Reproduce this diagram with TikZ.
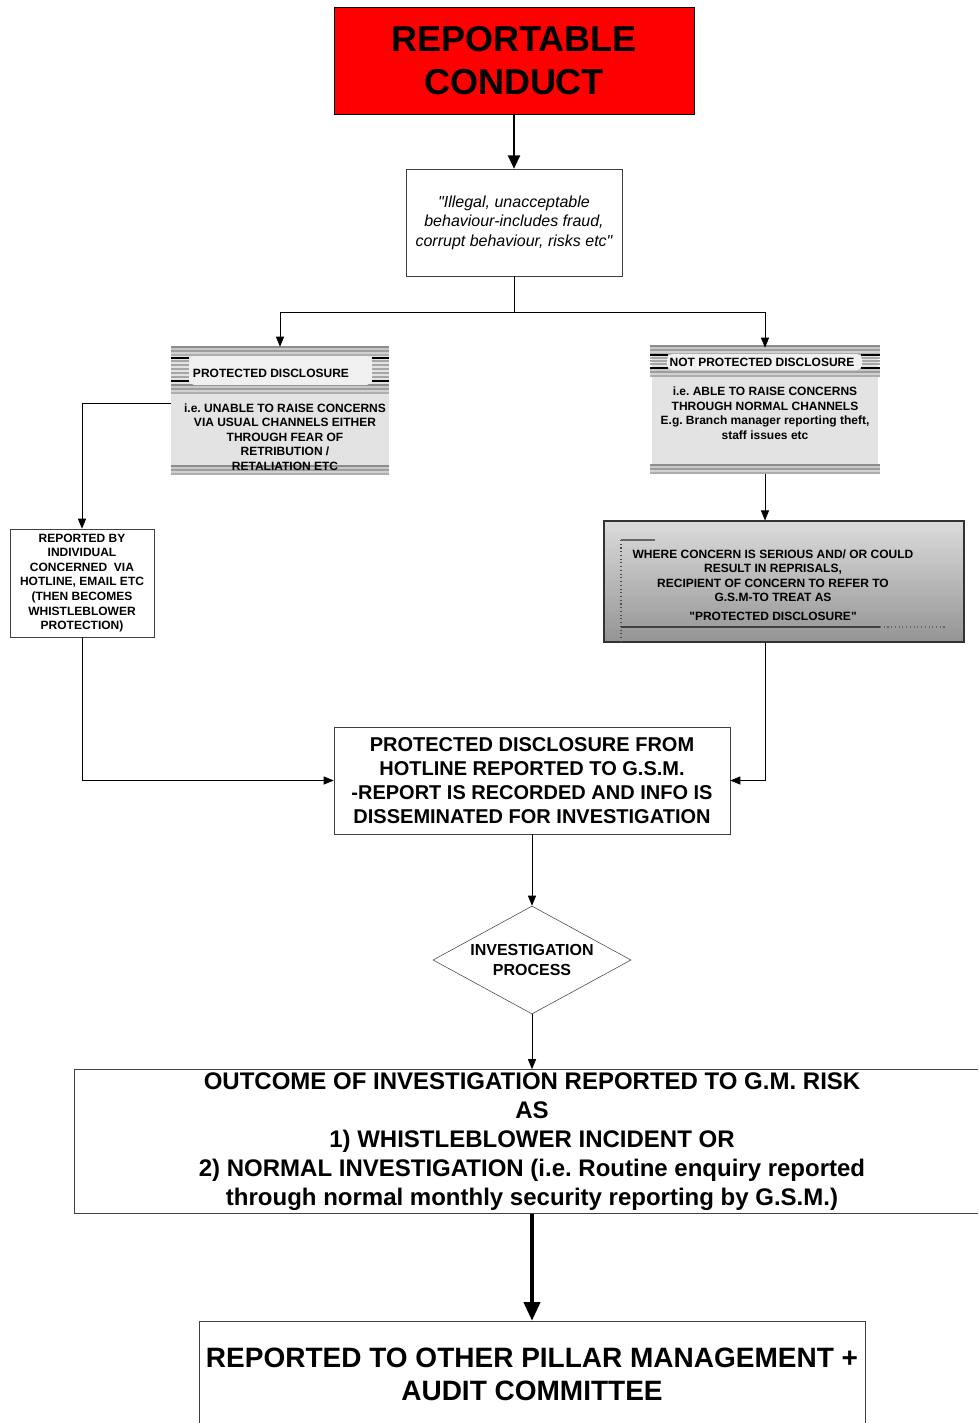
\documentclass[tikz,border=0pt]{standalone}
\usepackage{fontspec}
\setmainfont{Liberation Sans}[Ligatures=TeXOff]
\usepackage{tikz}
\usetikzlibrary{arrows.meta,shapes.geometric,positioning}

\newcommand\fs[2]{\fontsize{#1}{#2}\selectfont}
\newcommand\stripeband[3]{%
  \foreach \d/\c in {0/black!45,2/black!22,4/black!38,6/black!18,8/black!32}
    {\draw[\c, line width=1.1pt] (#1,#3+\d) -- (#2,#3+\d);}}

\tikzset{
  box/.style={draw=black!75, fill=white, inner sep=0pt, align=center},
  panel/.style={fill=black!11, inner sep=0pt},
  small/.style={font=\fs{9}{10.9}\bfseries, align=center, inner sep=0pt},
  link/.style={-{Triangle[length=7.5pt,width=6pt]}, line width=0.6pt},
  toplink/.style={-{Triangle[length=10pt,width=9pt]}, line width=1.5pt},
  biglink/.style={-{Triangle[length=14pt,width=12pt]}, line width=3pt}
}

\begin{document}
\frenchspacing
\begin{tikzpicture}[x=0.75pt,y=-0.75pt]
  \useasboundingbox (0,0) rectangle (978,1423);
  \clip (0,0) rectangle (978,1423);

  \node[box, draw=black, fill=red, minimum width=270pt, minimum height=80.25pt,
        font=\fs{27}{32}\bfseries] (conduct) at (514,60.5) {REPORTABLE\\CONDUCT};
  \node[box, minimum width=162pt, minimum height=80.25pt,
        font=\fs{12}{14.6}\itshape] (illegal) at (514,222.5)
        {"Illegal, unacceptable\\behaviour-includes fraud,\\corrupt behaviour, risks etc"};

  % protected disclosure panel
  \node[panel, minimum width=163.5pt, minimum height=96pt] (prot) at (280,411) {};
  \foreach \y in {347,385,466} {\stripeband{171}{389}{\y}}
  \foreach \y in {361,365,369,373,377} {\draw[black!35, line width=1pt] (171,\y) -- (389,\y);}
  \fill[black!6, rounded corners=4pt] (189,356) rectangle (372,385);
  \foreach \x/\xx in {171/189,372/389} {
    \draw[black, line width=0.8pt] (\x,358) -- (\xx,358);
    \draw[black, line width=0.8pt] (\x,381) -- (\xx,381);}
  \node[small] (protHead) at (271,373) {PROTECTED DISCLOSURE};
  \node[small] (protBody) at (285,437)
        {i.e. UNABLE TO RAISE CONCERNS\\VIA USUAL CHANNELS EITHER\\THROUGH FEAR OF\\RETRIBUTION /\\RETALIATION ETC};

  % not protected disclosure panel
  \node[panel, minimum width=169.5pt, minimum height=94.5pt] (notprot) at (765,411) {};
  \foreach \y in {346,368,465} {\stripeband{650}{880}{\y}}
  \foreach \y in {358,361,364} {\draw[black!35, line width=1pt] (650,\y) -- (880,\y);}
  \fill[black!6, rounded corners=4pt] (667,354) rectangle (862,370);
  \foreach \x/\xx in {650/668,861/880} {
    \draw[black, line width=0.8pt] (\x,355) -- (\xx,355);
    \draw[black, line width=0.8pt] (\x,368) -- (\xx,368);}
  \node[small] (notprotHead) at (762,362) {NOT PROTECTED DISCLOSURE};
  \node[small] (notprotBody) at (765,413)
        {i.e. ABLE TO RAISE CONCERNS\\THROUGH NORMAL CHANNELS\\E.g. Branch manager reporting theft,\\staff issues etc};

  % serious concern box
  \node[draw=black!80, line width=0.8pt, top color=black!14, bottom color=black!42,
        minimum width=270pt, minimum height=90.75pt, inner sep=0pt] (serious) at (784,581.5) {};
  \draw[black!70, dotted, line width=0.8pt] (621,540) -- (621,642);
  \draw[black!60, line width=0.8pt] (621,540) -- (655,540);
  \draw[black!75, line width=0.8pt] (621,627) -- (880,627);
  \draw[black!60, dotted, line width=0.8pt] (880,627) -- (947,627);
  \node[small] (seriousText) at (773,585)
        {WHERE CONCERN IS SERIOUS AND/ OR COULD\\RESULT IN REPRISALS,\\RECIPIENT OF CONCERN TO REFER TO\\G.S.M-TO TREAT AS\\[3pt]"PROTECTED DISCLOSURE"};

  \node[box, small, minimum width=108pt, minimum height=81pt] (reported) at (82,583)
        {REPORTED BY\\INDIVIDUAL\\CONCERNED\ \ VIA\\HOTLINE, EMAIL ETC\\(THEN BECOMES\\WHISTLEBLOWER\\PROTECTION)};
  \node[box, minimum width=297pt, minimum height=80.25pt, font=\fs{15}{18}\bfseries] (hotline) at (532,780.5)
        {PROTECTED DISCLOSURE FROM\\HOTLINE REPORTED TO G.S.M.\\-REPORT IS RECORDED AND INFO IS\\DISSEMINATED FOR INVESTIGATION};
  \node[draw=black!75, fill=white, diamond, aspect=1.83, inner sep=0pt, align=center,
        minimum width=148.5pt, minimum height=81pt, font=\fs{12}{14.3}\bfseries] (invest) at (532,960)
        {INVESTIGATION\\PROCESS};
  \node[box, minimum width=687pt, minimum height=108pt, font=\fs{18}{21.75}\bfseries] (outcome) at (532,1141.5)
        {OUTCOME OF INVESTIGATION REPORTED TO G.M. RISK\\AS\\1) WHISTLEBLOWER INCIDENT OR\\2) NORMAL INVESTIGATION (i.e. Routine enquiry reported\\through normal monthly security reporting by G.S.M.)};
  \node[box, minimum width=499.5pt, minimum height=79.5pt, font=\fs{21}{24.75}\bfseries] (committee) at (532,1374)
        {REPORTED TO OTHER PILLAR MANAGEMENT +\\AUDIT COMMITTEE};

  \draw[toplink] (conduct) -- (illegal);
  \draw[line width=0.6pt] (illegal.south) -- ++(0,36) coordinate (split);
  \draw[link] (split) -| (prot.north);
  \draw[link] (split) -| (notprot.north);
  \draw[link] ([yshift=6pt]prot.west) -| (reported.north);
  \draw[link] (reported.south) |- (hotline.west);
  \draw[link] (notprot.south) -- (notprot.south |- serious.north);
  \draw[link] (notprot.south |- serious.south) |- (hotline.east);
  \draw[link] (hotline) -- (invest);
  \draw[link] (invest) -- (outcome);
  \draw[biglink] (outcome) -- (committee);
\end{tikzpicture}
\end{document}
